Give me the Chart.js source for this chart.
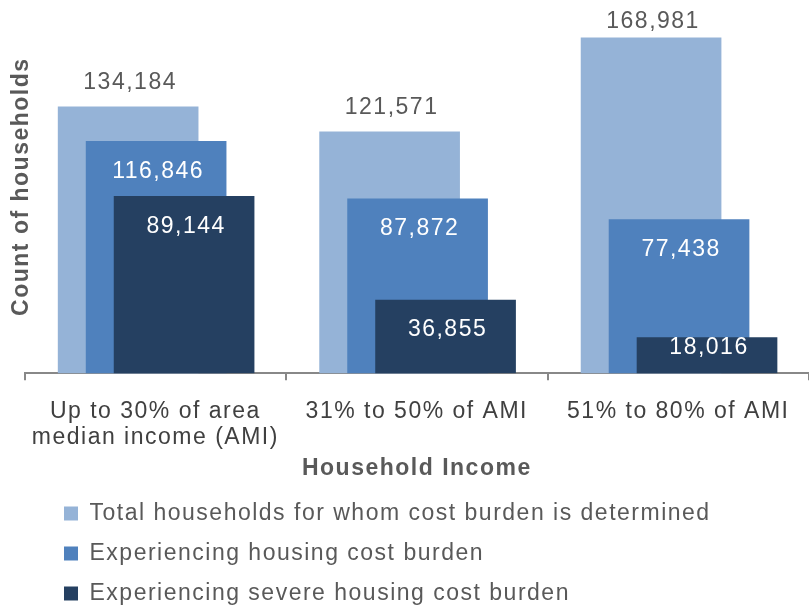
<!doctype html>
<html>
<head>
    <title>Housing cost burden by household income</title>
    <script src="https://cdn.jsdelivr.net/npm/chart.js@4/dist/chart.umd.min.js"></script>
    <style>
    body { margin: 0; background: #fff; }
    #holder { width: 809px; height: 607px; }
    </style>
</head>
<body>
    <div id="holder"><canvas id="chart-area"></canvas></div>
    <script>
    // data
    var categories = [['Up to 30% of area', 'median income (AMI)'], '31% to 50% of AMI', '51% to 80% of AMI'];
    var seriesNames = [
        'Total households for whom cost burden is determined',
        'Experiencing housing cost burden',
        'Experiencing severe housing cost burden'
    ];
    var totalHouseholds = [134184, 121571, 168981];
    var costBurden = [116846, 87872, 77438];
    var severeBurden = [89144, 36855, 18016];

    // look
    var colors = ['#95B3D7', '#4F81BD', '#254061'];
    var shift = [-0.104, 0.003, 0.11];   // overlap offsets, in category units
    var fontFamily = '"Liberation Sans", Arial, sans-serif';
    var grey = '#595959';
    var axisGrey = '#888888';

    function points(values, k) {
        return values.map(function (v, i) { return { x: i + shift[k], y: v }; });
    }

    var spacing = {
        id: 'spacing',
        beforeLayout: function (chart) { chart.ctx.letterSpacing = '1.5px'; },
        beforeDraw: function (chart) {
            chart.ctx.letterSpacing = '1.5px';
            // legend rows start further in, like the original
            chart.legend.left = 64 - chart.legend.options.labels.padding;
        }
    };

    var valueLabels = {
        id: 'valueLabels',
        afterDatasetsDraw: function (chart) {
            var ctx = chart.ctx;
            ctx.save();
            ctx.font = '23px ' + fontFamily;
            ctx.textAlign = 'center';
            ctx.textBaseline = 'middle';
            chart.data.datasets.forEach(function (ds, i) {
                var meta = chart.getDatasetMeta(i);
                meta.data.forEach(function (bar, j) {
                    var txt = ds.data[j].y.toLocaleString('en-US');
                    var y;
                    if (i === 0) {
                        ctx.fillStyle = grey;
                        y = Math.max(bar.y - 24, 22);
                    } else {
                        ctx.fillStyle = '#ffffff';
                        y = Math.min(bar.y + 30, bar.base - 26);
                    }
                    ctx.fillText(txt, bar.x + 2, y);
                });
            });
            ctx.restore();
        }
    };

    var config = {
        type: 'bar',
        data: {
            datasets: [{
                label: seriesNames[0],
                data: points(totalHouseholds, 0),
                backgroundColor: colors[0],
                order: 3
            }, {
                label: seriesNames[1],
                data: points(costBurden, 1),
                backgroundColor: colors[1],
                order: 2
            }, {
                label: seriesNames[2],
                data: points(severeBurden, 2),
                backgroundColor: colors[2],
                order: 1
            }]
        },
        options: {
            responsive: true,
            maintainAspectRatio: false,
            animation: false,
            layout: { autoPadding: false, padding: { left: 0, right: 0, top: 0, bottom: -8 } },
            datasets: {
                bar: { grouped: false, barThickness: 140, borderWidth: 0 }
            },
            scales: {
                x: {
                    type: 'linear',
                    min: -0.5,
                    max: categories.length - 0.5,
                    offset: false,
                    afterBuildTicks: function (axis) {
                        var t = [];
                        for (var i = 0; i < categories.length; i++) {
                            t.push({ value: i - 0.5 });
                            t.push({ value: i });
                        }
                        t.push({ value: categories.length - 0.5 });
                        axis.ticks = t;
                    },
                    afterFit: function (axis) {
                        // let the axis run edge to edge
                        axis.paddingLeft = 0;
                        axis.paddingRight = 0;
                    },
                    ticks: {
                        autoSkip: false,
                        maxRotation: 0,
                        padding: 19,
                        color: '#404040',
                        font: { family: fontFamily, size: 23, lineHeight: 1.1 },
                        callback: function (v) {
                            return Number.isInteger(v) ? categories[v] : '';
                        }
                    },
                    grid: {
                        offset: false,
                        drawOnChartArea: false,
                        drawTicks: true,
                        tickLength: 7,
                        lineWidth: 2,
                        color: function (c) {
                            return (c.tick && !Number.isInteger(c.tick.value)) ? axisGrey : 'rgba(0,0,0,0)';
                        }
                    },
                    border: { display: true, color: axisGrey, width: 2 },
                    title: {
                        display: true,
                        text: 'Household Income',
                        color: grey,
                        font: { family: fontFamily, size: 23, weight: 'bold' },
                        padding: { top: -14, bottom: 2.5 }
                    }
                },
                y: {
                    min: 0,
                    max: 188000,
                    ticks: { display: false },
                    grid: { display: false, drawTicks: false },
                    border: { display: false },
                    title: {
                        display: true,
                        text: 'Count of households',
                        color: grey,
                        font: { family: fontFamily, size: 23, weight: 'bold' },
                        padding: { top: 8, bottom: -11 }
                    }
                }
            },
            plugins: {
                legend: {
                    position: 'bottom',
                    align: 'start',
                    reverse: true,
                    labels: {
                        boxWidth: 14,
                        boxHeight: 14,
                        padding: 17,
                        color: grey,
                        font: { family: fontFamily, size: 23 }
                    }
                },
                tooltip: { enabled: false }
            }
        },
        plugins: [spacing, valueLabels]
    };

    window.onload = function () {
        var ctx = document.getElementById('chart-area').getContext('2d');
        window.myBars = new Chart(ctx, config);
    };
    </script>
</body>
</html>
